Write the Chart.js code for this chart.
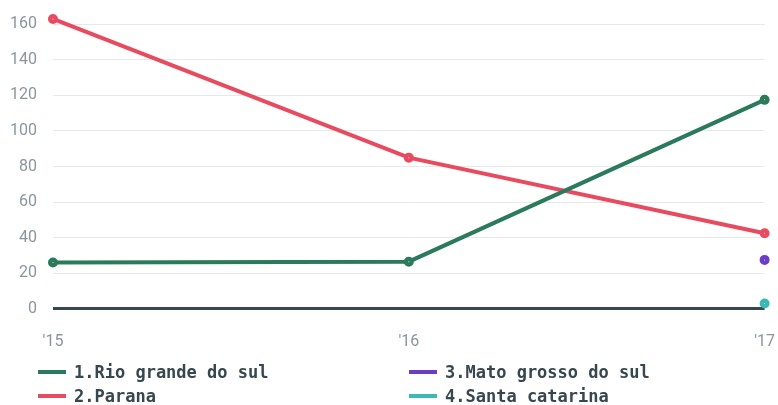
<!DOCTYPE html>
<html>
<head>
<meta charset="utf-8">
<script src="https://cdn.jsdelivr.net/npm/chart.js@4"></script>
<style>
  html, body { margin: 0; padding: 0; background: #fff; overflow: hidden; }
  #wrap { width: 791px; height: 380px; position: relative; margin-top: -12px; }
  #legend { display: grid; grid-template-columns: 371px 371px; padding-left: 38px; row-gap: 2px; margin-top: -7px; position: relative; }
  .item { display: flex; align-items: center; font: bold 17px 'DejaVu Sans Mono', monospace; color: #37474f; height: 22px; }
  .swatch { width: 28px; height: 4px; margin-right: 8px; }
</style>
</head>
<body>
<div id="wrap"><canvas id="chart"></canvas></div>
<div id="legend"></div>
<script>
const years = ["'15", "'16", "'17"];
const seriesNames = ['1.Rio grande do sul', '2.Parana', '3.Mato grosso do sul', '4.Santa catarina'];
const seriesColors = ['#2b7a5b', '#e84a5f', '#6a3cc8', '#3bbab5'];
const rioGrande = [26, 26.5, 117.5];
const parana = [163, 85, 42.5];
const matoGrosso = [null, null, 27.5];
const santaCatarina = [null, null, 3];
const yTicks = [0, 20, 40, 60, 80, 100, 120, 140, 160];

const seriesData = [rioGrande, parana, matoGrosso, santaCatarina];

// legend in two columns, ordered down each column
const legendOrder = [0, 2, 1, 3];
const legendEl = document.getElementById('legend');
legendOrder.forEach(i => {
  const item = document.createElement('div');
  item.className = 'item';
  item.innerHTML = `<span class="swatch" style="background:${seriesColors[i]}"></span>${seriesNames[i]}`;
  legendEl.appendChild(item);
});

new Chart(document.getElementById('chart'), {
  type: 'line',
  data: {
    labels: years,
    datasets: seriesData.map((data, i) => ({
      label: seriesNames[i],
      data,
      borderColor: seriesColors[i],
      backgroundColor: '#ffffff',
      pointBackgroundColor: '#ffffff',
      pointBorderColor: seriesColors[i],
      pointRadius: 2.75,
      pointBorderWidth: 4.5,
      borderWidth: 4,
      tension: 0
    }))
  },
  options: {
    responsive: true,
    maintainAspectRatio: false,
    animation: false,
    layout: { padding: { top: 0, right: 0, left: -6, bottom: 0 } },
    plugins: {
      legend: { display: false },
      tooltip: { enabled: false }
    },
    scales: {
      x: {
        offset: false,
        grid: { display: false },
        border: { display: false },
        ticks: { color: '#8c959d', font: { family: 'Roboto', size: 16 }, padding: 16, maxRotation: 0 }
      },
      y: {
        min: 0,
        max: 166,
        afterBuildTicks: axis => { axis.ticks = yTicks.map(v => ({ value: v })); },
        border: { display: false },
        grid: {
          drawTicks: false,
          color: ctx => ctx.tick && ctx.tick.value === 0 ? '#37474f' : '#e8e8e8',
          lineWidth: ctx => ctx.tick && ctx.tick.value === 0 ? 3 : 1
        },
        ticks: { color: '#8c959d', font: { family: 'Roboto', size: 16 }, padding: 16 }
      }
    }
  }
});
</script>
</body>
</html>
